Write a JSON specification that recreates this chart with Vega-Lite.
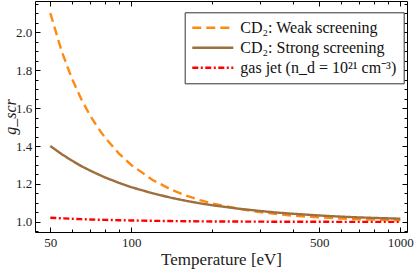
{
  "$schema": "https://vega.github.io/schema/vega-lite/v6.json",
  "width": 372,
  "height": 231,
  "autosize": {"type": "none"},
  "padding": {"left": 35, "top": 1, "right": 8, "bottom": 37},
  "background": "white",
  "config": {
    "view": {"stroke": "#000", "strokeWidth": 1},
    "font": "Liberation Serif",
    "axis": {"domain": false, "grid": false, "tickColor": "#000", "labelColor": "#222", "titleColor": "#222", "labelFont": "Liberation Serif", "titleFont": "Liberation Serif", "labelFontSize": 13, "titleFontWeight": "normal", "labelOverlap": false, "labelFlush": false},
    "legend": {"orient": "none", "legendX": 149.7, "legendY": 11.3, "direction": "vertical", "strokeColor": "#333", "fillColor": "white", "padding": 7, "symbolType": "M-3,0H3", "symbolSize": 187, "symbolStrokeWidth": 2.5, "symbolOffset": 12.6, "labelFont": "Liberation Serif", "labelFontSize": 16, "labelColor": "#111", "rowPadding": 3, "labelOffset": 19, "cornerRadius": 0, "strokeWidth": 1, "labelLimit": 300}
  },
  "data": {
    "values": [
      {"T": 50, "g": 2.100, "series": "CD₂: Weak screening"},
      {"T": 55, "g": 1.903, "series": "CD₂: Weak screening"},
      {"T": 60, "g": 1.759, "series": "CD₂: Weak screening"},
      {"T": 65, "g": 1.650, "series": "CD₂: Weak screening"},
      {"T": 70, "g": 1.565, "series": "CD₂: Weak screening"},
      {"T": 75, "g": 1.498, "series": "CD₂: Weak screening"},
      {"T": 80, "g": 1.443, "series": "CD₂: Weak screening"},
      {"T": 90, "g": 1.360, "series": "CD₂: Weak screening"},
      {"T": 100, "g": 1.300, "series": "CD₂: Weak screening"},
      {"T": 120, "g": 1.221, "series": "CD₂: Weak screening"},
      {"T": 140, "g": 1.172, "series": "CD₂: Weak screening"},
      {"T": 160, "g": 1.138, "series": "CD₂: Weak screening"},
      {"T": 180, "g": 1.115, "series": "CD₂: Weak screening"},
      {"T": 200, "g": 1.097, "series": "CD₂: Weak screening"},
      {"T": 250, "g": 1.069, "series": "CD₂: Weak screening"},
      {"T": 300, "g": 1.052, "series": "CD₂: Weak screening"},
      {"T": 350, "g": 1.041, "series": "CD₂: Weak screening"},
      {"T": 400, "g": 1.033, "series": "CD₂: Weak screening"},
      {"T": 500, "g": 1.024, "series": "CD₂: Weak screening"},
      {"T": 600, "g": 1.018, "series": "CD₂: Weak screening"},
      {"T": 700, "g": 1.014, "series": "CD₂: Weak screening"},
      {"T": 800, "g": 1.012, "series": "CD₂: Weak screening"},
      {"T": 900, "g": 1.010, "series": "CD₂: Weak screening"},
      {"T": 1000, "g": 1.008, "series": "CD₂: Weak screening"},
      {"T": 50, "g": 1.400, "series": "CD₂: Strong screening"},
      {"T": 55, "g": 1.358, "series": "CD₂: Strong screening"},
      {"T": 60, "g": 1.324, "series": "CD₂: Strong screening"},
      {"T": 65, "g": 1.295, "series": "CD₂: Strong screening"},
      {"T": 70, "g": 1.272, "series": "CD₂: Strong screening"},
      {"T": 75, "g": 1.252, "series": "CD₂: Strong screening"},
      {"T": 80, "g": 1.234, "series": "CD₂: Strong screening"},
      {"T": 90, "g": 1.206, "series": "CD₂: Strong screening"},
      {"T": 100, "g": 1.183, "series": "CD₂: Strong screening"},
      {"T": 120, "g": 1.151, "series": "CD₂: Strong screening"},
      {"T": 140, "g": 1.128, "series": "CD₂: Strong screening"},
      {"T": 160, "g": 1.111, "series": "CD₂: Strong screening"},
      {"T": 180, "g": 1.098, "series": "CD₂: Strong screening"},
      {"T": 200, "g": 1.088, "series": "CD₂: Strong screening"},
      {"T": 250, "g": 1.070, "series": "CD₂: Strong screening"},
      {"T": 300, "g": 1.058, "series": "CD₂: Strong screening"},
      {"T": 350, "g": 1.049, "series": "CD₂: Strong screening"},
      {"T": 400, "g": 1.043, "series": "CD₂: Strong screening"},
      {"T": 500, "g": 1.034, "series": "CD₂: Strong screening"},
      {"T": 600, "g": 1.028, "series": "CD₂: Strong screening"},
      {"T": 700, "g": 1.024, "series": "CD₂: Strong screening"},
      {"T": 800, "g": 1.021, "series": "CD₂: Strong screening"},
      {"T": 900, "g": 1.019, "series": "CD₂: Strong screening"},
      {"T": 1000, "g": 1.017, "series": "CD₂: Strong screening"},
      {"T": 50, "g": 1.0220, "series": "gas jet (n_d = 10²¹ cm⁻³)"},
      {"T": 55, "g": 1.0191, "series": "gas jet (n_d = 10²¹ cm⁻³)"},
      {"T": 60, "g": 1.0167, "series": "gas jet (n_d = 10²¹ cm⁻³)"},
      {"T": 65, "g": 1.0148, "series": "gas jet (n_d = 10²¹ cm⁻³)"},
      {"T": 70, "g": 1.0132, "series": "gas jet (n_d = 10²¹ cm⁻³)"},
      {"T": 75, "g": 1.0119, "series": "gas jet (n_d = 10²¹ cm⁻³)"},
      {"T": 80, "g": 1.0108, "series": "gas jet (n_d = 10²¹ cm⁻³)"},
      {"T": 90, "g": 1.0091, "series": "gas jet (n_d = 10²¹ cm⁻³)"},
      {"T": 100, "g": 1.0077, "series": "gas jet (n_d = 10²¹ cm⁻³)"},
      {"T": 120, "g": 1.0059, "series": "gas jet (n_d = 10²¹ cm⁻³)"},
      {"T": 140, "g": 1.0047, "series": "gas jet (n_d = 10²¹ cm⁻³)"},
      {"T": 160, "g": 1.0038, "series": "gas jet (n_d = 10²¹ cm⁻³)"},
      {"T": 180, "g": 1.0032, "series": "gas jet (n_d = 10²¹ cm⁻³)"},
      {"T": 200, "g": 1.0027, "series": "gas jet (n_d = 10²¹ cm⁻³)"},
      {"T": 250, "g": 1.0020, "series": "gas jet (n_d = 10²¹ cm⁻³)"},
      {"T": 300, "g": 1.0015, "series": "gas jet (n_d = 10²¹ cm⁻³)"},
      {"T": 350, "g": 1.0012, "series": "gas jet (n_d = 10²¹ cm⁻³)"},
      {"T": 400, "g": 1.0010, "series": "gas jet (n_d = 10²¹ cm⁻³)"},
      {"T": 500, "g": 1.0007, "series": "gas jet (n_d = 10²¹ cm⁻³)"},
      {"T": 600, "g": 1.0005, "series": "gas jet (n_d = 10²¹ cm⁻³)"},
      {"T": 700, "g": 1.0004, "series": "gas jet (n_d = 10²¹ cm⁻³)"},
      {"T": 800, "g": 1.0003, "series": "gas jet (n_d = 10²¹ cm⁻³)"},
      {"T": 900, "g": 1.0003, "series": "gas jet (n_d = 10²¹ cm⁻³)"},
      {"T": 1000, "g": 1.0002, "series": "gas jet (n_d = 10²¹ cm⁻³)"}
    ]
  },
  "resolve": {"axis": {"x": "independent", "y": "independent"}},
  "layer": [
    {
      "mark": {"type": "line", "strokeWidth": 2.4, "clip": true},
      "encoding": {
        "x": {"field": "T", "type": "quantitative",
          "scale": {"type": "log", "domain": [43.86, 1059], "nice": false},
          "axis": {"orient": "bottom", "title": "Temperature [eV]", "titleFontSize": 17,
            "values": [50, 60, 70, 80, 90, 100, 200, 300, 400, 500, 600, 700, 800, 900, 1000],
            "labelExpr": "(datum.value==50||datum.value==100||datum.value==500||datum.value==1000) ? format(datum.value,'d') : ''",
            "tickSize": {"condition": {"test": "datum.value==50||datum.value==100||datum.value==500||datum.value==1000", "value": -5}, "value": -3},
            "labelPadding": 9.5, "titlePadding": 0}},
        "y": {"field": "g", "type": "quantitative",
          "scale": {"domain": [0.947, 2.164], "nice": false, "zero": false},
          "axis": {"orient": "left", "title": "g_scr", "titleFontStyle": "italic", "titleFontSize": 16,
            "titleX": -25, "titleBaseline": "middle",
            "values": [0.95, 1, 1.05, 1.1, 1.15, 1.2, 1.25, 1.3, 1.35, 1.4, 1.45, 1.5, 1.55, 1.6, 1.65, 1.7, 1.75, 1.8, 1.85, 1.9, 1.95, 2, 2.05, 2.1, 2.15],
            "labelExpr": "abs(datum.value*5 - round(datum.value*5)) < 0.001 ? format(datum.value,'.1f') : ''",
            "tickSize": {"condition": {"test": "abs(datum.value*5 - round(datum.value*5)) < 0.001", "value": -5}, "value": -3},
            "labelPadding": 8.3}},
        "color": {"field": "series", "type": "nominal", "title": null,
          "scale": {"domain": ["CD₂: Weak screening", "CD₂: Strong screening", "gas jet (n_d = 10²¹ cm⁻³)"], "range": ["#FF8A12", "#9E6E3C", "#FF0000"]}},
        "strokeDash": {"field": "series", "type": "nominal", "title": null,
          "scale": {"domain": ["CD₂: Weak screening", "CD₂: Strong screening", "gas jet (n_d = 10²¹ cm⁻³)"], "range": [[9, 5], [1, 0], [6, 2.5, 2, 2.5]]}}
      }
    },
    {
      "mark": {"type": "line", "opacity": 0},
      "encoding": {
        "x": {"field": "T", "type": "quantitative",
          "scale": {"type": "log", "domain": [43.86, 1059], "nice": false},
          "axis": {"orient": "top", "title": null, "labels": false,
            "values": [50, 60, 70, 80, 90, 100, 200, 300, 400, 500, 600, 700, 800, 900, 1000],
            "tickSize": {"condition": {"test": "datum.value==50||datum.value==100||datum.value==500||datum.value==1000", "value": -5}, "value": -3}}},
        "y": {"field": "g", "type": "quantitative",
          "scale": {"domain": [0.947, 2.164], "nice": false, "zero": false},
          "axis": {"orient": "right", "title": null, "labels": false,
            "values": [0.95, 1, 1.05, 1.1, 1.15, 1.2, 1.25, 1.3, 1.35, 1.4, 1.45, 1.5, 1.55, 1.6, 1.65, 1.7, 1.75, 1.8, 1.85, 1.9, 1.95, 2, 2.05, 2.1, 2.15],
            "tickSize": {"condition": {"test": "abs(datum.value*5 - round(datum.value*5)) < 0.001", "value": -5}, "value": -3}}}
      }
    }
  ]
}
